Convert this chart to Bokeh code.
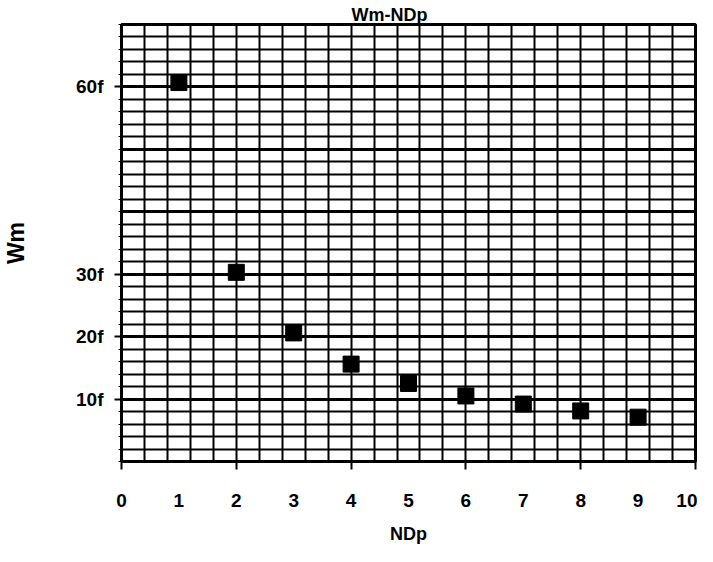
import numpy as np
from bokeh.plotting import figure
from bokeh.models import Range1d, FixedTicker, ColumnDataSource
from bokeh.embed import file_html
from bokeh.resources import INLINE

# data
ndp = [1, 2, 3, 4, 5, 6, 7, 8, 9]
wm = [60.7, 30.3, 20.6, 15.6, 12.5, 10.5, 9.2, 8.1, 7.1]

x_tick_values = [0, 1, 2, 3, 4, 5, 6, 7, 8, 9, 10]
x_tick_marks = [0, 2, 4, 6, 8, 10]
y_tick_values = [10, 20, 30, 60]
y_tick_labels = ["10f", "20f", "30f", "60f"]
y_major_grid = [10, 20, 30, 40, 50, 60]

FONT = "'Liberation Sans', Arial, sans-serif"

p = figure(width=697, height=546, output_backend="svg", toolbar_location=None,
           x_range=Range1d(0, 10), y_range=Range1d(0, 70),
           min_border_left=120, min_border_right=2, min_border_top=24, min_border_bottom=84)

p.background_fill_color = "white"
p.border_fill_color = "white"
p.outline_line_color = "black"
p.outline_line_width = 3

# title
p.title.text = "Wm-NDp"
p.title.align = "left"
p.title.offset = 230
p.title.standoff = 0
p.title.text_font = FONT
p.title.text_font_size = "18px"
p.title.text_font_style = "bold"
p.title.text_color = "black"

# grids
p.xgrid.ticker = FixedTicker(ticks=list(np.round(np.arange(0, 10.01, 0.4), 2)))
p.xgrid.grid_line_color = "black"
p.xgrid.grid_line_width = 2
p.ygrid.ticker = FixedTicker(ticks=y_major_grid, minor_ticks=list(range(0, 71, 2)))
p.ygrid.grid_line_color = "black"
p.ygrid.grid_line_width = 3
p.ygrid.minor_grid_line_color = "black"
p.ygrid.minor_grid_line_width = 2

# x axis
xa = p.xaxis[0]
xa.ticker = FixedTicker(ticks=x_tick_values, minor_ticks=x_tick_marks)
xa.major_tick_in = 0
xa.major_tick_out = 0
xa.major_tick_line_color = None
xa.minor_tick_in = 0
xa.minor_tick_out = 8
xa.minor_tick_line_color = "black"
xa.minor_tick_line_width = 2
xa.axis_line_color = "black"
xa.axis_line_width = 3
xa.major_label_standoff = 24
xa.major_label_text_font = FONT
xa.major_label_text_font_size = "19px"
xa.major_label_text_font_style = "bold"
xa.major_label_text_color = "black"
xa.axis_label = "NDp"
xa.axis_label_standoff = 14
xa.axis_label_text_font = FONT
xa.axis_label_text_font_size = "18px"
xa.axis_label_text_font_style = "bold"
xa.axis_label_text_color = "black"

# y axis
ya = p.yaxis[0]
ya.ticker = FixedTicker(ticks=y_tick_values, minor_ticks=list(range(0, 71, 2)))
ya.major_label_overrides = {v: s for v, s in zip(y_tick_values, y_tick_labels)}
ya.major_tick_in = 0
ya.major_tick_out = 7
ya.major_tick_line_color = "black"
ya.major_tick_line_width = 2
ya.minor_tick_in = 0
ya.minor_tick_out = 3
ya.minor_tick_line_color = "black"
ya.axis_line_color = "black"
ya.axis_line_width = 3
ya.major_label_standoff = 11
ya.major_label_text_font = FONT
ya.major_label_text_font_size = "19px"
ya.major_label_text_font_style = "bold"
ya.major_label_text_color = "black"
ya.axis_label = "Wm"
ya.axis_label_standoff = 44
ya.axis_label_text_font = FONT
ya.axis_label_text_font_size = "23px"
ya.axis_label_text_font_style = "bold"
ya.axis_label_text_color = "black"

src = ColumnDataSource(dict(x=ndp, y=wm))
p.scatter("x", "y", source=src, marker="square", size=16,
          fill_color="black", line_color="black", line_width=1)

open("out.html", "w").write(file_html(p, INLINE))
